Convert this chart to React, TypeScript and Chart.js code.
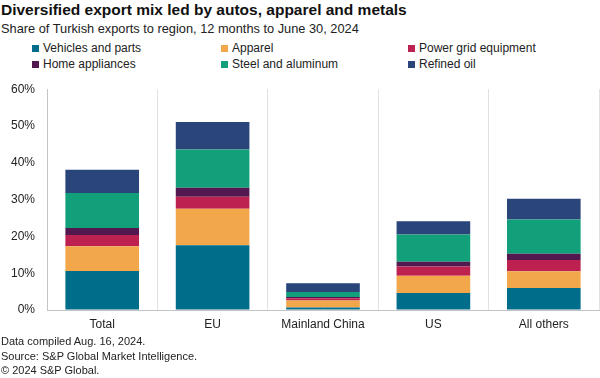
import React, { useEffect, useRef } from "react";
import { Chart, registerables } from "chart.js";

Chart.register(...registerables);

const categories = ["Total", "EU", "Mainland China", "US", "All others"];
const vehicles = [10.6, 17.6, 0.7, 4.6, 6.0];
const apparel = [6.7, 9.9, 1.9, 4.7, 4.5];
const powerGrid = [3.1, 3.3, 0.6, 2.5, 3.1];
const homeAppliances = [1.9, 2.4, 0.3, 1.3, 1.7];
const steelAluminum = [9.5, 10.4, 1.4, 7.4, 9.3];
const refinedOil = [6.3, 7.5, 2.4, 3.6, 5.6];
const yTicks = [0, 10, 20, 30, 40, 50, 60];

const seriesNames = [
  "Vehicles and parts",
  "Apparel",
  "Power grid equipment",
  "Home appliances",
  "Steel and aluminum",
  "Refined oil",
];
const seriesData = [vehicles, apparel, powerGrid, homeAppliances, steelAluminum, refinedOil];
const seriesColors = ["#006d8a", "#f2a74b", "#bd2150", "#52184f", "#12a07b", "#29457a"];

const FONT = "Arial, 'Liberation Sans', Helvetica, sans-serif";

const legendPos = [
  { x: 32, y: 47 },
  { x: 221, y: 47 },
  { x: 408, y: 47 },
  { x: 32, y: 63 },
  { x: 221, y: 63 },
  { x: 408, y: 63 },
];

export default function App() {
  const ref = useRef<HTMLCanvasElement>(null);

  useEffect(() => {
    document.body.style.margin = "0";
    const ctx = ref.current!.getContext("2d")!;
    const chart = new Chart(ctx, {
      type: "bar",
      data: {
        labels: categories,
        datasets: seriesNames.map((name, i) => ({
          label: name,
          data: seriesData[i],
          backgroundColor: seriesColors[i],
          borderWidth: 0,
          categoryPercentage: 1,
          barPercentage: 0.667,
        })),
      },
      options: {
        responsive: false,
        animation: false,
        maintainAspectRatio: false,
        layout: { padding: { top: 8, right: 1, left: 0, bottom: 0 } },
        plugins: {
          legend: { display: false },
          title: { display: false },
          tooltip: { enabled: false },
        },
        scales: {
          x: {
            stacked: true,
            afterFit: (s: any) => {
              s.height = 30;
            },
            grid: {
              offset: true,
              color: "#e1e1e1",
              lineWidth: 1,
              drawTicks: false,
            },
            border: { display: true, color: "#c4c4c4", width: 1 },
            ticks: {
              padding: 7,
              color: "#222",
              font: { family: FONT, size: 12 },
              maxRotation: 0,
              autoSkip: false,
            },
          },
          y: {
            stacked: true,
            min: 0,
            max: 60,
            afterFit: (s: any) => {
              s.width = 47;
            },
            afterBuildTicks: (s: any) => {
              s.ticks = yTicks.map((v) => ({ value: v }));
            },
            grid: { color: "rgba(0,0,0,0)", drawTicks: false },
            border: { display: true, color: "#c4c4c4", width: 1 },
            ticks: {
              padding: 12,
              color: "#222",
              font: { family: FONT, size: 12 },
              callback: (v: any) => v + "%",
            },
          },
        },
      },
    });
    return () => chart.destroy();
  }, []);

  return (
    <div
      style={{
        position: "fixed",
        left: 0,
        top: 0,
        width: 600,
        height: 378,
        background: "#fff",
        fontFamily: FONT,
        color: "#111",
        overflow: "hidden",
      }}
    >
      <div
        style={{
          position: "absolute",
          left: 1,
          top: 1,
          fontSize: 15.5,
          fontWeight: "bold",
          whiteSpace: "nowrap",
          lineHeight: "18px",
        }}
      >
        Diversified export mix led by autos, apparel and metals
      </div>
      <div
        style={{
          position: "absolute",
          left: 1,
          top: 21,
          fontSize: 12.8,
          whiteSpace: "nowrap",
          lineHeight: "16px",
          color: "#222",
        }}
      >
        Share of Turkish exports to region, 12 months to June 30, 2024
      </div>
      {seriesNames.map((name, i) => (
        <div
          key={name}
          style={{
            position: "absolute",
            left: legendPos[i].x,
            top: legendPos[i].y - 7,
            height: 16,
            display: "flex",
            alignItems: "center",
            fontSize: 12,
            whiteSpace: "nowrap",
            color: "#222",
          }}
        >
          <span
            style={{
              display: "inline-block",
              width: 7,
              height: 7,
              background: seriesColors[i],
              marginRight: 4,
            }}
          />
          {name}
        </div>
      ))}
      <canvas
        ref={ref}
        width={600}
        height={270}
        style={{ position: "absolute", left: 0, top: 70, width: 600, height: 270 }}
      />
      <div
        style={{
          position: "absolute",
          left: 1,
          top: 334,
          fontSize: 11,
          lineHeight: "14.5px",
          color: "#222",
          whiteSpace: "nowrap",
        }}
      >
        <div>Data compiled Aug. 16, 2024.</div>
        <div>Source: S&amp;P Global Market Intelligence.</div>
        <div>© 2024 S&amp;P Global.</div>
      </div>
    </div>
  );
}
